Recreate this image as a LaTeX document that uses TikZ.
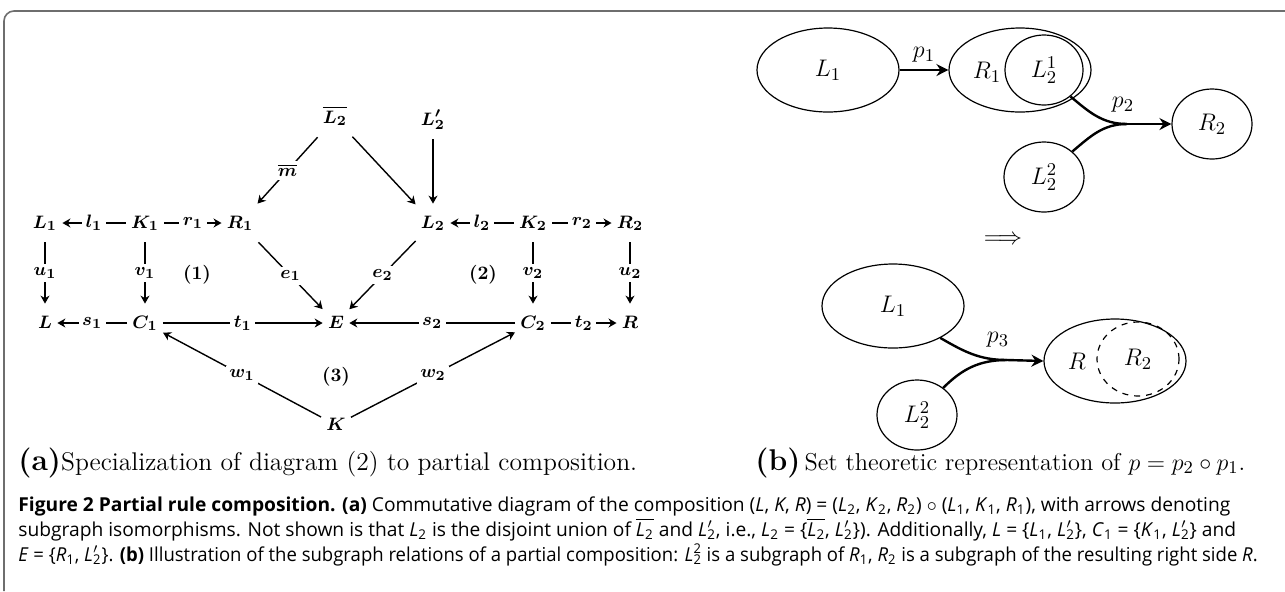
\documentclass[tikz,border=0pt]{standalone}
\usepackage{fontspec}
\usetikzlibrary{arrows.meta,shapes.geometric}
\newfontfamily\capfont{Open Sans}
\definecolor{framegray}{RGB}{110,110,110}
\newcommand\mv[2]{\textit{#1}\textsubscript{#2}}
\newcommand\Lprm{\textit{L}\rlap{$'$}\textsubscript{2}}
\begin{document}
\begin{tikzpicture}[x=0.5pt,y=-0.5pt,
  ob/.style={inner xsep=2.5pt,inner ysep=5pt,text height=7pt,text depth=2pt,font=\fontsize{9.5}{11}\selectfont\boldmath},
  lb/.style={fill=white,inner sep=1.8pt,font=\fontsize{9.5}{11}\selectfont\boldmath},
  num/.style={inner sep=1pt,font=\fontsize{9.5}{11}\selectfont\bfseries},
  ar/.style={line width=0.7pt,-{Stealth[length=4pt,width=4.5pt,inset=1.3pt]}},
  el/.style={ellipse,draw,line width=0.6pt,inner sep=0pt,font=\fontsize{13}{15}\selectfont},
  bt/.style={font=\fontsize{13}{15}\selectfont},
  car/.style={line width=1.2pt},
  sub/.style={anchor=base west,inner sep=0pt},
  capline/.style={anchor=base west,inner sep=0pt,font=\capfont\fontsize{9.6}{11}\selectfont}
]
\useasboundingbox (0,0) rectangle (1285,591);
% frame
\draw[framegray,line width=0.8pt,rounded corners=5pt] (4,591) -- (4,11) -- (1290,11);

% ---------- (a) ----------
\node[ob] (Lb2) at (335,118) {$\overline{L_2}$};
\node[ob] (Lp2) at (433,120) {$L'_2$};
\node[ob] (L1) at (45,223) {$L_1$};
\node[ob] (K1) at (145,223) {$K_1$};
\node[ob] (R1) at (240,223) {$R_1$};
\node[ob] (L2) at (433,223) {$L_2$};
\node[ob] (K2) at (533,223) {$K_2$};
\node[ob] (R2) at (630,223) {$R_2$};
\node[ob] (L) at (45,323) {$L$};
\node[ob] (C1) at (145,323) {$C_1$};
\node[ob] (E) at (336,323) {$E$};
\node[ob] (C2) at (533,323) {$C_2$};
\node[ob] (R) at (630,323) {$R$};
\node[ob] (K) at (336,425) {$K$};

\draw[ar] (K1) -- node[lb]{$l_1$} (L1);
\draw[ar] (K1) -- node[lb]{$r_1$} (R1);
\draw[ar] (K2) -- node[lb]{$l_2$} (L2);
\draw[ar] (K2) -- node[lb]{$r_2$} (R2);
\draw[ar] (Lb2) -- node[lb]{$\overline{m}$} (R1);
\draw[ar] (Lb2) -- (L2);
\draw[ar] (Lp2) -- (L2);
\draw[ar] (L1) -- node[lb]{$u_1$} (L);
\draw[ar] (K1) -- node[lb]{$v_1$} (C1);
\draw[ar] (R1) -- node[lb]{$e_1$} (E);
\draw[ar] (L2) -- node[lb]{$e_2$} (E);
\draw[ar] (K2) -- node[lb]{$v_2$} (C2);
\draw[ar] (R2) -- node[lb]{$u_2$} (R);
\draw[ar] (C1) -- node[lb]{$s_1$} (L);
\draw[ar] (C1) -- node[lb]{$t_1$} (E);
\draw[ar] (C2) -- node[lb]{$s_2$} (E);
\draw[ar] (C2) -- node[lb]{$t_2$} (R);
\draw[ar] (K) -- node[lb]{$w_1$} (C1);
\draw[ar] (K) -- node[lb]{$w_2$} (C2);
\node[num] (n1) at (197,275) {(1)};
\node[num] (n2) at (483,275) {(2)};
\node[num] (n3) at (336,377) {(3)};

% ---------- (b) ----------
\node[el,minimum width=71pt,minimum height=42pt] (tL1) at (828,70) {$L_1$};
\node[el,minimum width=71pt,minimum height=42pt] (tR1) at (1020,70) {};
\node[bt] (tR1t) at (987,72) {$R_1$};
\node[el,minimum width=39pt,minimum height=35pt] (tL21) at (1044,70) {$L_2^1$};
\node[el,minimum width=40pt,minimum height=35pt] (tR2) at (1212,124) {$R_2$};
\node[el,minimum width=40pt,minimum height=35pt] (tL22) at (1044,177) {$L_2^2$};
\draw[car,-{Stealth[length=6pt,width=6pt,inset=2pt]}] (tL1) -- node[bt,above=0pt]{$p_1$} (tR1);
\coordinate (m2) at (1127,124);
\draw[car] (tL21.-45) to[out=-40,in=180] (m2);
\draw[car] (tL22.42) to[out=40,in=180] (m2);
\draw[car,-{Stealth[length=6pt,width=6pt,inset=2pt]}] (m2) -- (tR2);
\node[bt] (p2) at (1123,105) {$p_2$};

\node[bt] (impl) at (1003,240) {$\Longrightarrow$};

\node[el,minimum width=71pt,minimum height=42pt] (bL1) at (893,306) {$L_1$};
\node[el,minimum width=71pt,minimum height=42pt] (bR) at (1115,361) {};
\node[el,dashed,minimum width=41pt,minimum height=37pt] (bR2) at (1138,359) {$R_2$};
\node[bt] (bRt) at (1077,361) {$R$};
\node[el,minimum width=40pt,minimum height=35pt] (bL22) at (917,415) {$L_2^2$};
\coordinate (m3) at (1007,360);
\draw[car] (bL1.-34) to[out=-30,in=180] (m3);
\draw[car] (bL22.46) to[out=45,in=180] (m3);
\draw[car,-{Stealth[length=6pt,width=6pt,inset=2pt]}] (m3) -- (bR.west);
\node[bt] (p3) at (998,340) {$p_3$};

% ---------- sub captions ----------
\node[sub,font=\fontsize{12.8}{15}\selectfont] (capa) at (18,470) {{\fontsize{15}{16}\selectfont\bfseries(a)}Specialization of diagram (2) to partial composition.};
\node[sub,font=\fontsize{12.2}{15}\selectfont] (capb) at (755,470) {{\fontsize{15}{16}\selectfont\bfseries(b)}\,Set theoretic representation of $p=p_2\circ p_1$.};

% ---------- figure caption ----------
\node[capline] (c1) at (18,511) {{\bfseries Figure 2 Partial rule composition. (a)} Commutative diagram of the composition (\textit{L}, \textit{K}, \textit{R}) = (\mv{L}{2}, \mv{K}{2}, \mv{R}{2}) $\circ$ (\mv{L}{1}, \mv{K}{1}, \mv{R}{1}), with arrows denoting};
\node[capline] (c2) at (18,536) {subgraph isomorphisms. Not shown is that \mv{L}{2} is the disjoint union of $\overline{\hbox{\mv{L}{2}}}$ and \Lprm, i.e., \mv{L}{2} = \{$\overline{\hbox{\mv{L}{2}}}$, \Lprm\}). Additionally, \textit{L} = \{\mv{L}{1}, \Lprm\}, \mv{C}{1} = \{\mv{K}{1}, \Lprm\} and};
\node[capline] (c3) at (18,561) {\scalebox{0.965}[1]{\textit{E} = \{\mv{R}{1}, \Lprm\}. {\bfseries (b)} Illustration of the subgraph relations of a partial composition: \textit{L}\rlap{\textsuperscript{2}}\textsubscript{2} is a subgraph of \mv{R}{1}, \mv{R}{2} is a subgraph of the resulting right side \textit{R}.}};
\end{tikzpicture}
\end{document}
